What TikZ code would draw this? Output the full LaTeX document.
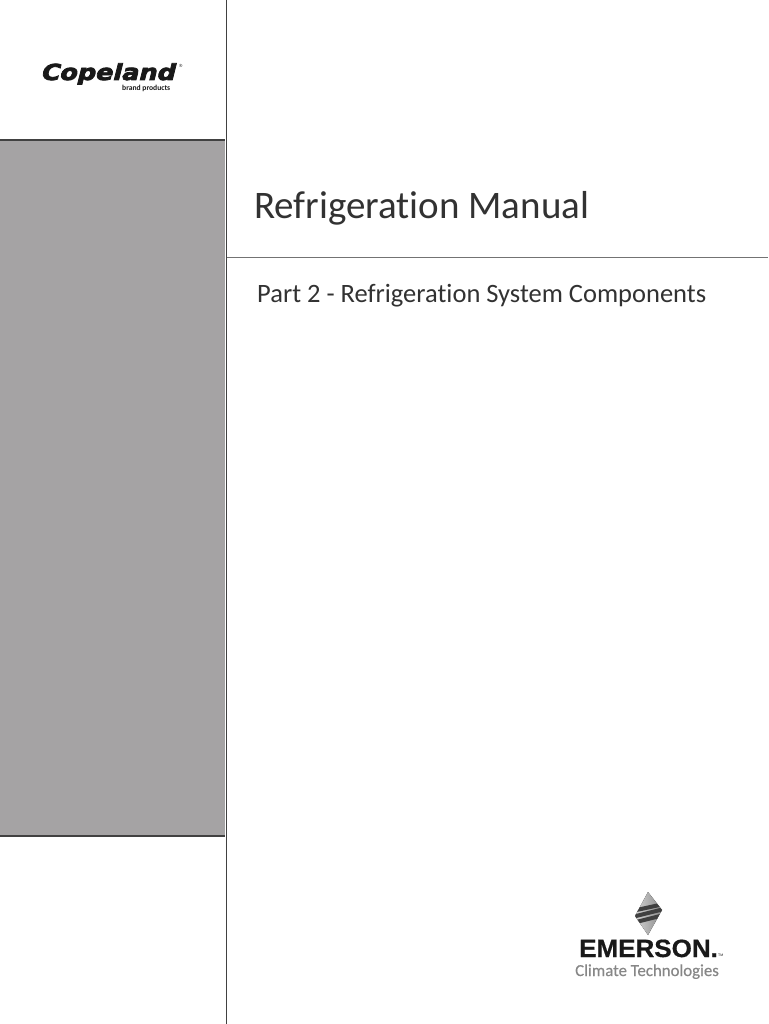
\documentclass[tikz,border=0pt]{standalone}
\usepackage{fontspec}
\setmainfont{Carlito}[Ligatures=NoCommon]
\newfontfamily\logofont{Liberation Sans}
\newfontfamily\copelandfont[FakeBold=3.5,FakeSlant=0.25,FakeStretch=1.16]{DejaVu Sans Bold}
\newfontfamily\emersonfont[FakeBold=0.6,FakeStretch=1.04]{Liberation Sans Bold}
\newfontfamily\climatefont[FakeBold=0.4]{Carlito}
\usetikzlibrary{positioning}
\definecolor{panelgrey}{RGB}{165,163,164}
\definecolor{rulegrey}{RGB}{65,65,65}
\definecolor{titlegrey}{RGB}{50,50,50}
\definecolor{climategrey}{RGB}{135,135,135}
\definecolor{logoblack}{RGB}{25,25,25}
\tikzset{
  rulestyle/.style={draw=rulegrey,line width=1.3pt},
  titletext/.style={anchor=base west,inner sep=0pt,text=titlegrey},
  logotext/.style={anchor=base west,inner sep=0pt,text=logoblack},
}
\begin{document}
\begin{tikzpicture}[x=1pt,y=-1pt]
\useasboundingbox (0,0) rectangle (768,1024);
\fill[white] (0,0) rectangle (768,1024);
% left panel
\fill[panelgrey] (0,140) rectangle (225,836);
\draw[rulestyle] (0,140) -- (225,140);
\draw[rulestyle] (0,836) -- (225,836);
\draw[rulestyle] (226.5,0) -- (226.5,1024);
\draw[draw=black!55,line width=1.3pt] (226.5,257.5) -- (768,257.5);
% titles
\node[titletext,font=\fontsize{39}{39}\selectfont] (title) at (254,218.5) {Refrigeration Manual};
\node[titletext,font=\fontsize{26.5}{26.5}\selectfont] (subtitle) at (257,302.5) {Part 2 - Refrigeration System Components};
% copeland
\node[logotext,font=\copelandfont\fontsize{22}{22}\selectfont] (copeland) at (40,80) {Copeland};
\node[logotext,font=\bfseries\fontsize{7.6}{7.6}\selectfont] (brand) at (122,91) {brand products};
\node[logotext,font=\logofont\fontsize{4.5}{4.5}\selectfont] (regmark) at (179,67.5) {®};
% emerson mark
\begin{scope}
\clip (648,892) -- (662,910) -- (648,935) -- (635,916) -- cycle;
\fill[left color=black!12,right color=black!50] (630,888) rectangle (666,938);
\foreach \yleft/\yright in {911/904,917/909,923/915}
  \draw[black!75,line width=4pt] (632,\yleft) -- (664,\yright);
\end{scope}
% emerson
\node[logotext,font=\emersonfont\fontsize{25}{25}\selectfont] (emerson) at (579,957) {EMERSON.};
\node[logotext,font=\logofont\fontsize{3.5}{3.5}\selectfont] (trademark) at (718,956) {TM};
\node[logotext,font=\climatefont\fontsize{16.8}{16.8}\selectfont,text=climategrey] (climate) at (575,976) {Climate Technologies};
\end{tikzpicture}
\end{document}
